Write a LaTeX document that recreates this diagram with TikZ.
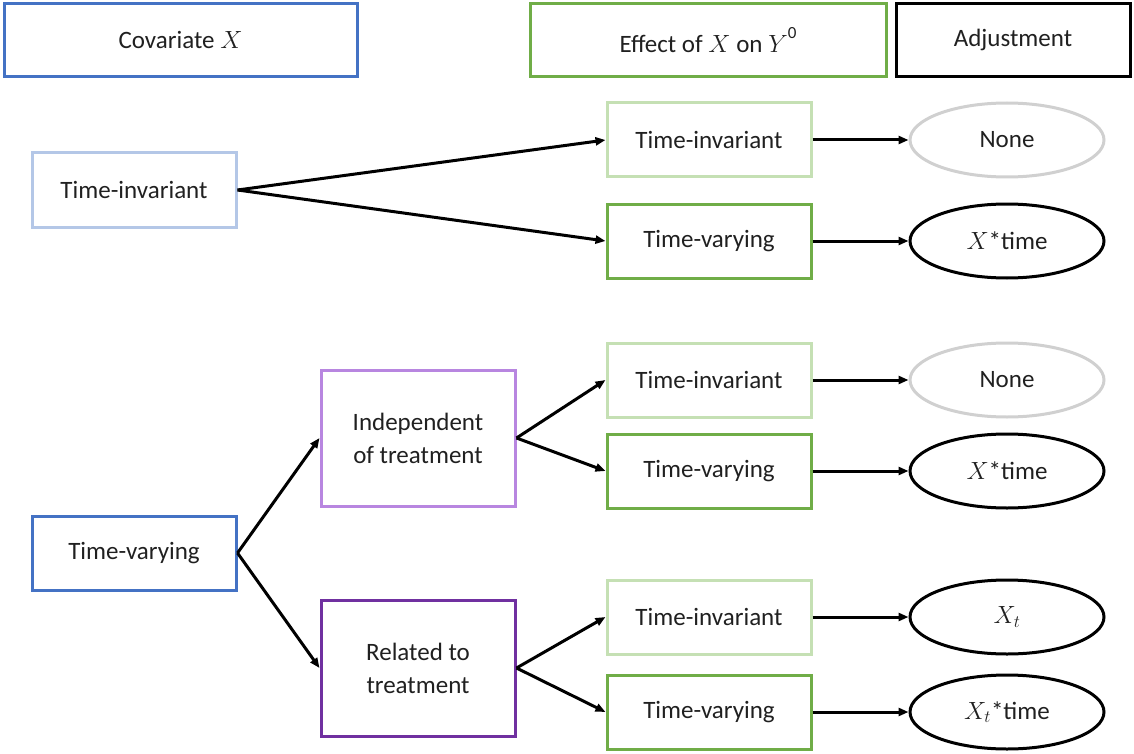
\documentclass[tikz,border=0pt]{standalone}
\usepackage[no-math]{fontspec}
\setmainfont{Carlito}
\usetikzlibrary{shapes.geometric,arrows.meta}
\definecolor{lblue}{HTML}{B4C7E7}
\definecolor{dblue}{HTML}{4472C4}
\definecolor{lgreen}{HTML}{C5E0B4}
\definecolor{dgreen}{HTML}{70AD47}
\definecolor{lpurple}{HTML}{B886E0}
\definecolor{dpurple}{HTML}{7030A0}
\definecolor{lgray}{HTML}{D0D0D0}
\definecolor{txt}{HTML}{202020}
\begin{document}
\begin{tikzpicture}[x=1pt,y=-1pt,
  every node/.style={font=\fontsize{25}{33}\selectfont, text=txt},
  box/.style={draw, rectangle, line width=3pt, inner sep=0pt, align=center},
  hdr/.style={box, minimum height=73pt},
  sbox/.style={box, minimum width=204pt, minimum height=74pt},
  gbox/.style={box, minimum width=204pt, minimum height=74pt},
  pbox/.style={box, minimum width=194pt, minimum height=136pt},
  oval/.style={draw, ellipse, line width=3pt, inner sep=0pt, minimum width=194pt, minimum height=74pt},
  arr/.style={-{Triangle[length=10pt,width=8pt]}, line width=3pt, black}]
\useasboundingbox (0,0) rectangle (1134,754);
% headers
\node[hdr, draw=dblue, minimum width=353pt] (h1) at (180.5,40) {Covariate $X$};
\node[hdr, draw=dgreen, minimum width=356pt] (h2) at (708,40) {Effect of $X$ on $Y$\raisebox{0.55em}{\fontsize{17}{20}\selectfont 0}};
\node[hdr, draw=black, minimum width=234pt] (h3) at (1013,40) {Adjustment};
% top group
\node[sbox, draw=lblue] (ti) at (134,190) {Time-invariant};
\node[gbox, draw=lgreen] (e1) at (709,140) {Time-invariant};
\node[gbox, draw=dgreen] (e2) at (709,241) {Time-varying};
\node[oval, draw=lgray] (a1) at (1007,140) {None};
\node[oval, draw=black] (a2) at (1007,241) {$X$*time};
% bottom group
\node[sbox, draw=dblue] (tv) at (134,553) {Time-varying};
\node[pbox, draw=lpurple] (ind) at (418,438) {Independent\\of treatment};
\node[pbox, draw=dpurple] (rel) at (418,668) {Related to\\treatment};
\node[gbox, draw=lgreen] (e3) at (709,380) {Time-invariant};
\node[gbox, draw=dgreen] (e4) at (709,471) {Time-varying};
\node[gbox, draw=lgreen] (e5) at (709,617) {Time-invariant};
\node[gbox, draw=dgreen] (e6) at (709,712) {Time-varying};
\node[oval, draw=lgray] (a3) at (1007,380) {None};
\node[oval, draw=black] (a4) at (1007,471) {$X$*time};
\node[oval, draw=black] (a5) at (1007,617) {$X_t$};
\node[oval, draw=black] (a6) at (1007,712) {$X_t$*time};
% connectors
\draw[arr] (ti.east) -- (e1.west);
\draw[arr] (ti.east) -- (e2.west);
\draw[arr] (e1) -- (a1);
\draw[arr] (e2) -- (a2);
\draw[arr] (tv.east) -- (ind.west);
\draw[arr] (tv.east) -- (rel.west);
\draw[arr] (ind.east) -- (e3.west);
\draw[arr] (ind.east) -- (e4.west);
\draw[arr] (rel.east) -- (e5.west);
\draw[arr] (rel.east) -- (e6.west);
\draw[arr] (e3) -- (a3);
\draw[arr] (e4) -- (a4);
\draw[arr] (e5) -- (a5);
\draw[arr] (e6) -- (a6);
\end{tikzpicture}
\end{document}
